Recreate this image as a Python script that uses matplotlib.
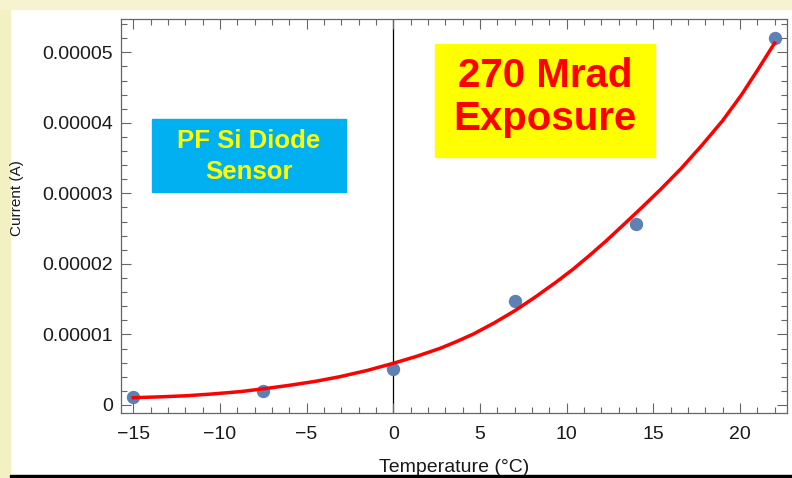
import matplotlib
matplotlib.use("Agg")
import matplotlib.pyplot as plt
from matplotlib.patches import Rectangle
from matplotlib.ticker import MultipleLocator, FuncFormatter

# measured points: temperature (C) vs leakage current (A)
temp_meas = [-15, -7.5, 0, 7, 14, 22]
curr_meas = [0.118e-5, 0.203e-5, 0.515e-5, 1.47e-5, 2.566e-5, 5.20e-5]

# fit curve
temp_fit = [-15, -13.5, -12, -10.5, -8.84, -7.4, -5.96, -4.5, -3.08, -1.5,
            0, 1.35, 2.7, 3.66, 4.62, 5.82, 7.02, 8.22, 9.43, 10.4,
            11.35, 12.3, 13.27, 14.3, 15.39, 16.6, 17.8, 19.0, 20.1, 21.05, 22]
curr_fit = [0.103e-5, 0.115e-5, 0.13e-5, 0.155e-5, 0.189e-5, 0.232e-5,
            0.28e-5, 0.335e-5, 0.401e-5, 0.49e-5, 0.591e-5, 0.69e-5,
            0.803e-5, 0.90e-5, 1.006e-5, 1.163e-5, 1.337e-5, 1.535e-5,
            1.748e-5, 1.93e-5, 2.126e-5, 2.33e-5, 2.552e-5, 2.79e-5,
            3.048e-5, 3.35e-5, 3.68e-5, 4.03e-5, 4.40e-5, 4.76e-5, 5.13e-5]

x_ticks = [-15, -10, -5, 0, 5, 10, 15, 20]
y_ticks = [0, 1e-5, 2e-5, 3e-5, 4e-5, 5e-5]

plt.rcParams['font.family'] = ['Liberation Sans', 'DejaVu Sans']

W, H = 792, 478
fig = plt.figure(figsize=(W / 100, H / 100), dpi=100)
fig.patch.set_facecolor('white')


def fx(px):
    return px / W


def fy(py):
    return 1 - py / H


# slide background bits around the chart
fig.patches.append(Rectangle((0, 0), fx(10), 1, transform=fig.transFigure,
                             color='#f3f0c4', zorder=0))
fig.patches.append(Rectangle((0, fy(9)), 1, 9 / H, transform=fig.transFigure,
                             color='#f5f3d0', zorder=0))
fig.patches.append(Rectangle((fx(10), 0), 1, 3.5 / H, transform=fig.transFigure,
                             color='black', zorder=10))

ax = fig.add_axes([fx(121), fy(413.3), fx(786.7 - 121), (413.3 - 19) / H])
ax.set_facecolor('white')

ax.axvline(0, color='black', lw=0.9, zorder=1)
ax.plot(temp_meas, curr_meas, 'o', color='#5e81b5', ms=8.6, zorder=2)
ax.plot(temp_fit, curr_fit, color='#ff0000', lw=2.5, zorder=3,
        solid_joinstyle='round')

ax.set_xlim(-15.71, 22.70)
ax.set_ylim(-0.118e-5, 5.472e-5)
ax.set_xticks(x_ticks)
ax.set_yticks(y_ticks)
ax.xaxis.set_minor_locator(MultipleLocator(1))
ax.yaxis.set_minor_locator(MultipleLocator(0.2e-5))
ax.yaxis.set_major_formatter(FuncFormatter(lambda v, p: '0' if v == 0 else f'{v:.5f}'))

ax.tick_params(which='both', direction='in', top=True, right=True,
               color='#666666', width=0.8, labelsize=14, labelcolor='#1a1a1a')
ax.tick_params(which='major', length=7)
ax.tick_params(which='minor', length=4)
ax.tick_params(axis='y', pad=6)
ax.tick_params(axis='x', pad=9)
for s in ax.spines.values():
    s.set_color('#666666')
    s.set_linewidth(0.9)

fig.text(fx(454), fy(472.5), 'Temperature (°C)', ha='center', va='baseline',
         fontsize=14, color='#1a1a1a')
fig.text(fx(17.5), fy(198), 'Current (A)', rotation=90, ha='center', va='center',
         fontsize=11, color='#1a1a1a')

# label boxes
fig.patches.append(Rectangle((fx(151.7), fy(191.7)), fx(346 - 151.7), (191.7 - 119.3) / H,
                             transform=fig.transFigure, color='#00b0f0', zorder=5))
fig.text(fx(249), fy(140.7), 'PF Si Diode', ha='center', va='center', fontsize=18.5,
         fontweight='bold', color='#ffff00', zorder=6)
fig.text(fx(249), fy(172), 'Sensor', ha='center', va='center', fontsize=18.5,
         fontweight='bold', color='#ffff00', zorder=6)

fig.patches.append(Rectangle((fx(435), fy(157.3)), fx(655 - 435), (157.3 - 44) / H,
                             transform=fig.transFigure, color='#ffff00', zorder=5))
fig.text(fx(545), fy(76), '270 Mrad', ha='center', va='center', fontsize=29,
         fontweight='bold', color='#ff0000', zorder=6)
fig.text(fx(545), fy(119), 'Exposure', ha='center', va='center', fontsize=29,
         fontweight='bold', color='#ff0000', zorder=6)

fig.savefig('out.png', dpi=100)
